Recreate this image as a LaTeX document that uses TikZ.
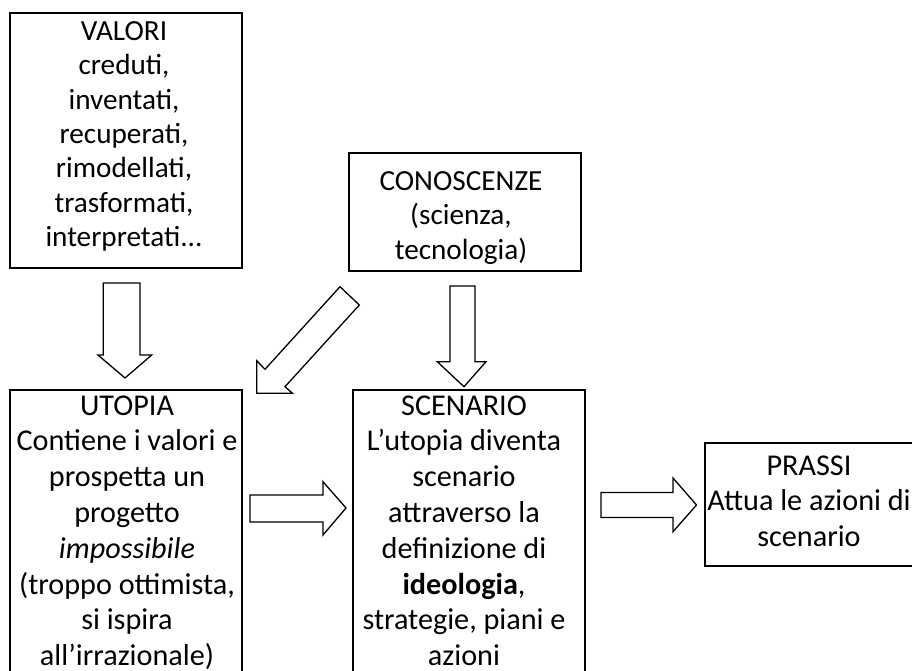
\documentclass[tikz,border=0pt]{standalone}
\usepackage{fontspec}
\setmainfont{Carlito}
\begin{document}
\begin{tikzpicture}[x=1pt,y=-1pt,
  box/.style={draw=black,line width=1.5pt,inner sep=0pt,fill=white},
  toptxt/.style={anchor=north,inner sep=0pt,align=center,font=\fontsize{29.2}{34.3}\selectfont},
  bottxt/.style={anchor=north,inner sep=0pt,align=center,font=\fontsize{30.2}{35.8}\selectfont},
  blockarrow/.style={draw=black,line width=1.3pt,fill=white,line join=miter}]
\useasboundingbox (0,0) rectangle (912,670);
% boxes
\node[box,minimum width=232pt,minimum height=255pt] (valori) at (126,140.5) {};
\node[box,minimum width=232pt,minimum height=118pt] (conosc) at (465,212) {};
\node[box,minimum width=232pt,minimum height=285pt] (utopia) at (126,532.5) {};
\node[box,minimum width=232pt,minimum height=285pt] (scenario) at (469,532.5) {};
\node[box,minimum width=210pt,minimum height=123pt] (prassi) at (810,504.5) {};
% texts
\node[toptxt] (valoritxt) at (124,21.4) {VALORI\\creduti,\\inventati,\\recuperati,\\rimodellati,\\trasformati,\\interpretati...};
\node[toptxt] (conosctxt) at (461,171.4) {CONOSCENZE\\(scienza,\\tecnologia)};
\node[bottxt] (utopiatxt) at (127,395.2) {UTOPIA\\Contiene i valori e\\prospetta un\\progetto\\\textit{impossibile}\\(troppo ottimista,\\si ispira\\all’irrazionale)};
\node[bottxt] (scenariotxt) at (464,395.2) {SCENARIO\\L’utopia diventa\\scenario\\attraverso la\\definizione di\\\textbf{ideologia},\\strategie, piani e\\azioni};
\node[bottxt] (prassitxt) at (809,455.2) {PRASSI\\Attua le azioni di\\scenario};
% block arrows
\draw[blockarrow] (103.3,283) -- (140,283) -- (140,355) -- (151.7,355) -- (125,378) -- (98,355) -- (103.3,355) -- cycle;
\draw[blockarrow] (450,286) -- (475,286) -- (475,361.7) -- (486,361.7) -- (464,386.7) -- (437.3,361.7) -- (450,361.7) -- cycle;
\draw[blockarrow] (340,286.7) -- (359.3,305) -- (285,386.7) -- (292.5,393.3) -- (256.7,393.3) -- (256.7,360.7) -- (265,369.3) -- cycle;
\draw[blockarrow] (250,495) -- (323,495) -- (323,481.7) -- (346,508) -- (323,535) -- (323,522) -- (250,522) -- cycle;
\draw[blockarrow] (601,492.5) -- (673,492.5) -- (673,478) -- (696.5,505) -- (673,531.7) -- (673,517.5) -- (601,517.5) -- cycle;
\end{tikzpicture}
\end{document}
